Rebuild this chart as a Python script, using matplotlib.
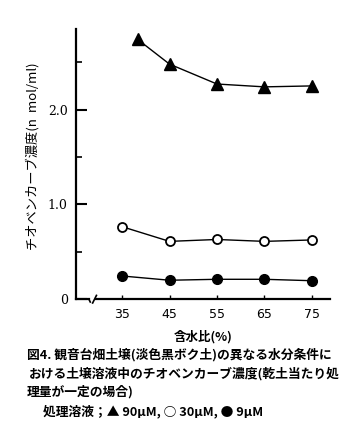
import matplotlib.pyplot as plt
from matplotlib.lines import Line2D

plt.rcParams['font.family'] = ['Noto Sans CJK JP', 'DejaVu Sans']

# data
x_tri = [38.3, 45, 55, 65, 75]
y_tri = [2.74, 2.48, 2.27, 2.24, 2.25]      # 90 uM
x_circ = [35, 45, 55, 65, 75]
y_open = [0.765, 0.61, 0.63, 0.61, 0.625]   # 30 uM
y_fill = [0.245, 0.20, 0.21, 0.21, 0.195]   # 9 uM

xticks = [35, 45, 55, 65, 75]
yticks = [0, 1.0, 2.0]
ytick_labels = ['0', '1.0', '2.0']

fig = plt.figure(figsize=(3.57, 4.40), dpi=100)
ax = fig.add_axes([0.213, 0.32, 0.711, 0.614])

ax.plot(x_tri, y_tri, color='black', lw=1, marker='^', ms=8, mfc='black', mec='black')
ax.plot(x_circ, y_open, color='black', lw=1, marker='o', ms=6.5, mfc='white', mec='black', mew=1.3)
ax.plot(x_circ, y_fill, color='black', lw=1, marker='o', ms=7, mfc='black', mec='black')

ax.set_xlim(25.3, 78.8)
ax.set_ylim(0, 2.85)

ax.spines['top'].set_visible(False)
ax.spines['right'].set_visible(False)
ax.spines['bottom'].set_visible(False)
ax.spines['left'].set_linewidth(1.6)

# x axis with a break near the origin
ax.add_line(Line2D([25.3, 28.0], [0, 0], color='black', lw=1.6, clip_on=False))
ax.add_line(Line2D([28.0, 28.3], [0, -0.03], color='black', lw=1.2, clip_on=False))
ax.add_line(Line2D([28.8, 29.6], [-0.04, 0.04], color='black', lw=1.2, clip_on=False))
ax.add_line(Line2D([29.6, 78.8], [0, 0], color='black', lw=1.6, clip_on=False))

ax.set_xticks(xticks)
ax.set_xticklabels([str(v) for v in xticks], family='DejaVu Sans', fontsize=9)
ax.set_yticks(yticks)
ax.set_yticklabels(ytick_labels, family='DejaVu Serif', fontsize=9)
ax.set_yticks([0.5, 1.5, 2.5], minor=True)
ax.tick_params(axis='y', which='major', direction='in', length=8, width=1.5, pad=6)
ax.tick_params(axis='y', which='minor', direction='in', length=4, width=1.2)
ax.tick_params(axis='x', direction='in', length=3, width=1, pad=6)

ax.set_ylabel('チオベンカーブ濃度(n  mol/ml)', fontsize=9.5)
ax.yaxis.set_label_coords(-0.142, 0.528)
ax.set_xlabel('含水比(%)', fontsize=9, labelpad=7, fontweight='bold')

cap = dict(fontsize=9.2, fontweight='bold', ha='left', va='center')
fig.text(0.075, 1 - 355 / 440, '図4. 観音台畑土壌(淡色黒ボク土)の異なる水分条件に', **cap)
fig.text(0.082, 1 - 374 / 440, 'おける土壌溶液中のチオベンカーブ濃度(乾土当たり処', **cap)
fig.text(0.075, 1 - 392 / 440, '理量が一定の場合)', **cap)
fig.text(0.12, 1 - 411 / 440, '処理溶液；▲ 90μM, ○ 30μM, ● 9μM', **cap)

fig.savefig('out.png', dpi=100)
